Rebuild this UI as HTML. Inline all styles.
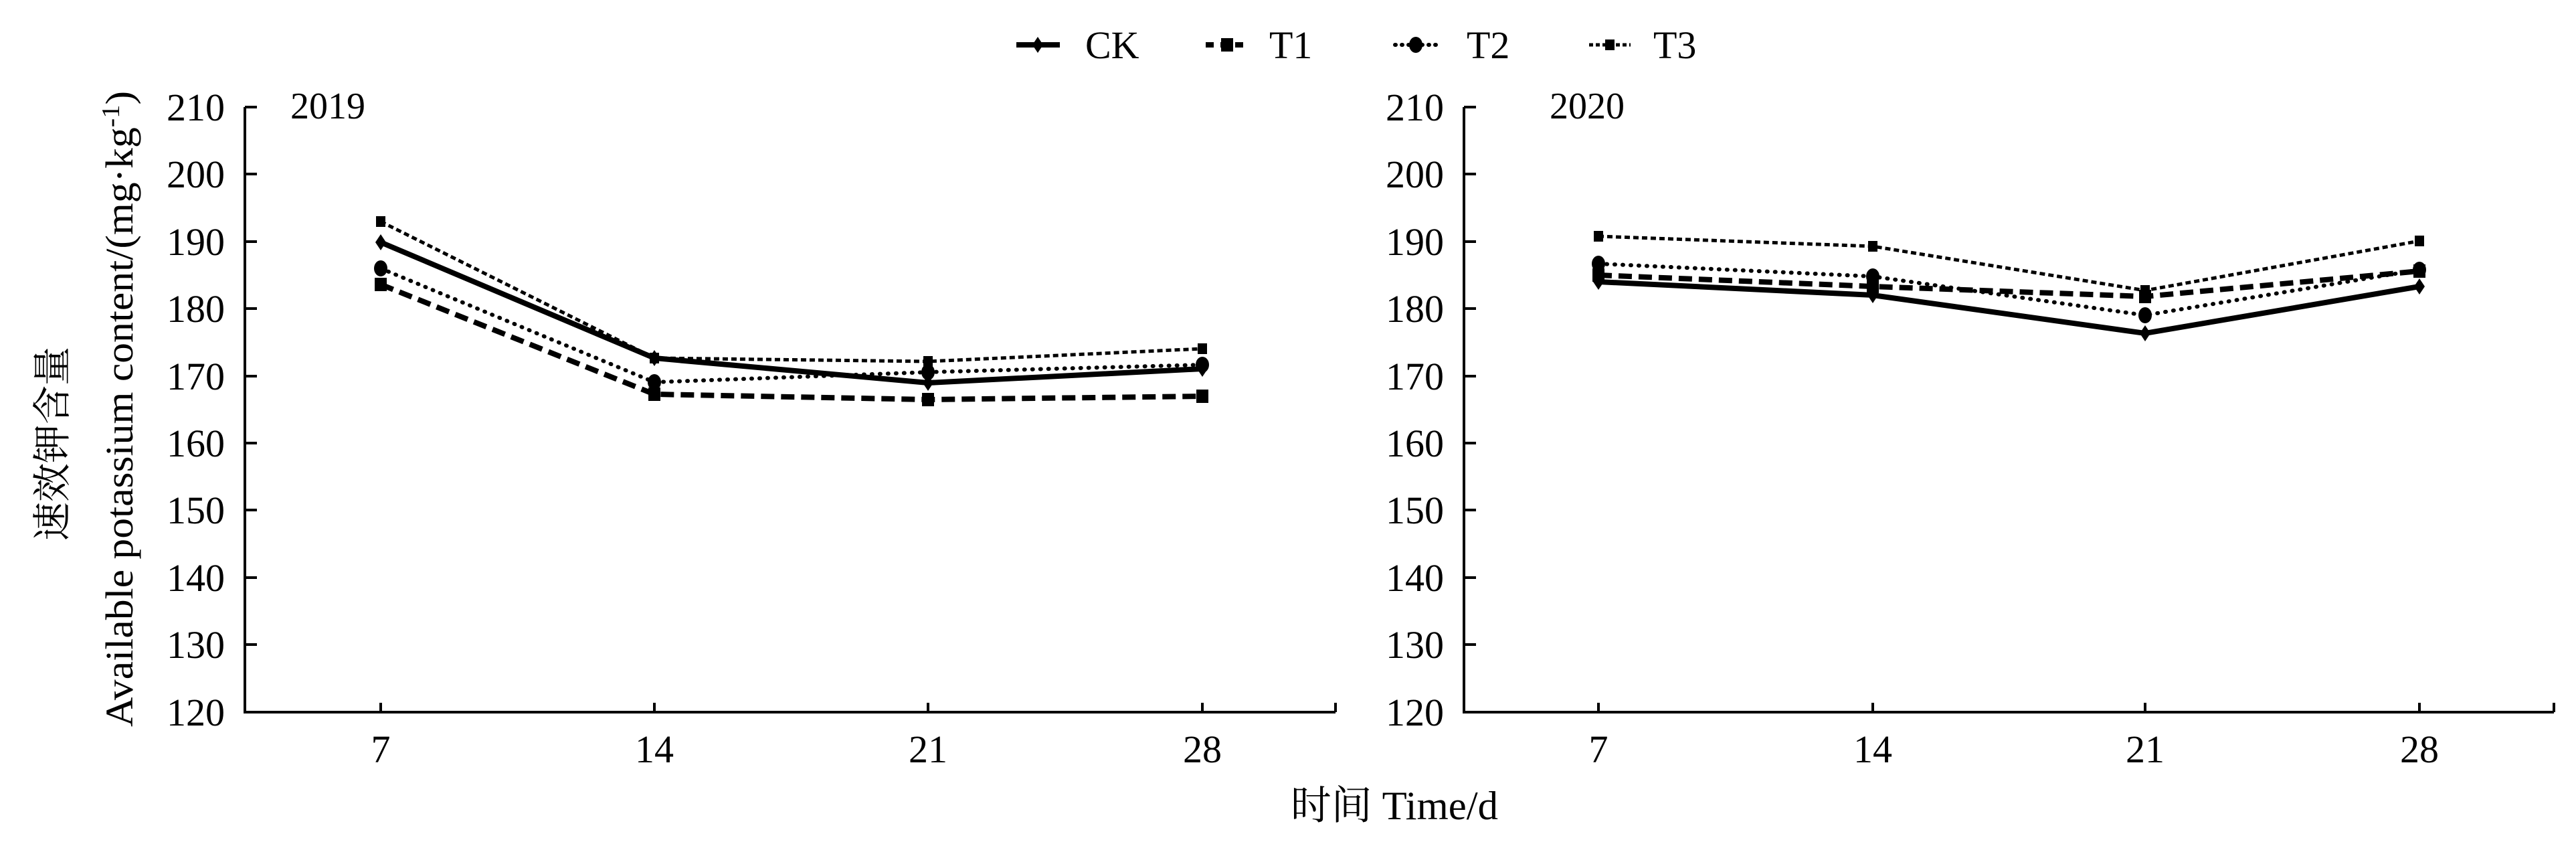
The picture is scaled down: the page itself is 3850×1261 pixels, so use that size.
<!DOCTYPE html>
<html><head><meta charset="utf-8"><style>
html,body{margin:0;padding:0;background:#fff;}
svg{display:block;}
text{font-family:"Liberation Serif","Noto Serif CJK SC",serif;fill:#000;}
</style></head><body>
<svg width="3850" height="1261" viewBox="0 0 3850 1261" xmlns="http://www.w3.org/2000/svg">
<defs>
<g id="mCK"><polygon points="0,-12 8,0 0,12 -8,0"/></g>
<g id="mT1"><rect x="-9" y="-10" width="18" height="20"/></g>
<g id="mT2"><ellipse cx="0" cy="0" rx="10" ry="12"/></g>
<g id="mT3"><rect x="-7" y="-8" width="14" height="16"/></g>
</defs>

<!-- Legend -->
<g stroke="#000" fill="#000">
<line x1="1519" y1="67" x2="1584" y2="67" stroke-width="8"/>
<use href="#mCK" x="1551" y="67" stroke="none"/>
<line x1="1802" y1="67" x2="1867" y2="67" stroke-width="8" stroke-dasharray="12,10"/>
<use href="#mT1" x="1834" y="67" stroke="none"/>
<line x1="2085" y1="67" x2="2146" y2="67" stroke-width="6" stroke-dasharray="1,9" stroke-linecap="round"/>
<use href="#mT2" x="2116" y="67" stroke="none"/>
<line x1="2375" y1="67" x2="2437" y2="67" stroke-width="5" stroke-dasharray="6,4"/>
<use href="#mT3" x="2406" y="67" stroke="none"/>
</g>
<g font-size="58">
<text x="1622" y="87">CK</text>
<text x="1897" y="87">T1</text>
<text x="2192" y="87">T2</text>
<text x="2471" y="87">T3</text>
</g>

<!-- Y axis titles -->
<text transform="translate(98,663) rotate(-90)" text-anchor="middle" font-size="58" font-family="Noto Serif CJK SC, serif">速效钾含量</text>
<text transform="translate(198,611) rotate(-90)" text-anchor="middle" font-size="58" textLength="950" lengthAdjust="spacingAndGlyphs">Available potassium content/(mg·kg<tspan dy="-20" font-size="38">-1</tspan><tspan dy="20">)</tspan></text>

<!-- X axis title -->
<text x="2084" y="1224" text-anchor="middle" font-size="60" textLength="310" lengthAdjust="spacingAndGlyphs">时间 Time/d</text>

<!-- Panel 1 axes -->
<g stroke="#000" stroke-width="4" fill="none">
<polyline points="366,160 366,1064 1996,1064"/>
<path d="M366,160h18M366,260h18M366,361h18M366,461h18M366,562h18M366,662h18M366,762h18M366,863h18M366,963h18"/>
<path d="M569,1064v-14M978,1064v-14M1387,1064v-14M1797,1064v-14M1996,1064v-14"/>
</g>
<g font-size="58" text-anchor="end">
<text x="336" y="180">210</text><text x="336" y="280">200</text><text x="336" y="381">190</text>
<text x="336" y="481">180</text><text x="336" y="582">170</text><text x="336" y="682">160</text>
<text x="336" y="782">150</text><text x="336" y="883">140</text><text x="336" y="983">130</text>
<text x="336" y="1084">120</text>
</g>
<g font-size="58" text-anchor="middle">
<text x="569" y="1139">7</text><text x="978" y="1139">14</text><text x="1387" y="1139">21</text><text x="1797" y="1139">28</text>
<text x="490" y="177" font-size="56">2019</text>
</g>

<!-- Panel 2 axes -->
<g stroke="#000" stroke-width="4" fill="none">
<polyline points="2188,160 2188,1064 3817,1064"/>
<path d="M2188,160h18M2188,260h18M2188,361h18M2188,461h18M2188,562h18M2188,662h18M2188,762h18M2188,863h18M2188,963h18"/>
<path d="M2389,1064v-14M2799,1064v-14M3206,1064v-14M3616,1064v-14M3817,1064v-14"/>
</g>
<g font-size="58" text-anchor="end">
<text x="2158" y="180">210</text><text x="2158" y="280">200</text><text x="2158" y="381">190</text>
<text x="2158" y="481">180</text><text x="2158" y="582">170</text><text x="2158" y="682">160</text>
<text x="2158" y="782">150</text><text x="2158" y="883">140</text><text x="2158" y="983">130</text>
<text x="2158" y="1084">120</text>
</g>
<g font-size="58" text-anchor="middle">
<text x="2389" y="1139">7</text><text x="2799" y="1139">14</text><text x="3206" y="1139">21</text><text x="3616" y="1139">28</text>
<text x="2372" y="177" font-size="56">2020</text>
</g>

<!-- Series 2019 -->
<g fill="none" stroke="#000">
<polyline points="569,331 978,535 1387,540 1797,521" stroke-width="5" stroke-dasharray="8,5"/>
<polyline points="569,362 978,535 1387,572 1797,551" stroke-width="8"/>
<polyline points="569,425 978,589 1387,597 1797,592" stroke-width="8" stroke-dasharray="20,10"/>
<polyline points="569,401 978,571 1387,556 1797,545" stroke-width="6" stroke-dasharray="1,11" stroke-linecap="round"/>
</g>
<g fill="#000">
<use href="#mT3" x="569" y="331"/><use href="#mT3" x="978" y="535"/><use href="#mT3" x="1387" y="540"/><use href="#mT3" x="1797" y="521"/>
<use href="#mCK" x="569" y="362"/><use href="#mCK" x="978" y="535"/><use href="#mCK" x="1387" y="572"/><use href="#mCK" x="1797" y="551"/>
<use href="#mT1" x="569" y="425"/><use href="#mT1" x="978" y="589"/><use href="#mT1" x="1387" y="597"/><use href="#mT1" x="1797" y="592"/>
<use href="#mT2" x="569" y="401"/><use href="#mT2" x="978" y="571"/><use href="#mT2" x="1387" y="556"/><use href="#mT2" x="1797" y="545"/>
</g>

<!-- Series 2020 -->
<g fill="none" stroke="#000">
<polyline points="2389,353 2799,368 3206,434 3616,360" stroke-width="5" stroke-dasharray="8,5"/>
<polyline points="2389,421 2799,441 3206,498 3616,428" stroke-width="8"/>
<polyline points="2389,411 2799,428 3206,443 3616,405" stroke-width="8" stroke-dasharray="20,10"/>
<polyline points="2389,394 2799,413 3206,471 3616,403" stroke-width="6" stroke-dasharray="1,11" stroke-linecap="round"/>
</g>
<g fill="#000">
<use href="#mT3" x="2389" y="353"/><use href="#mT3" x="2799" y="368"/><use href="#mT3" x="3206" y="434"/><use href="#mT3" x="3616" y="360"/>
<use href="#mCK" x="2389" y="421"/><use href="#mCK" x="2799" y="441"/><use href="#mCK" x="3206" y="498"/><use href="#mCK" x="3616" y="428"/>
<use href="#mT1" x="2389" y="411"/><use href="#mT1" x="2799" y="428"/><use href="#mT1" x="3206" y="443"/><use href="#mT1" x="3616" y="405"/>
<use href="#mT2" x="2389" y="394"/><use href="#mT2" x="2799" y="413"/><use href="#mT2" x="3206" y="471"/><use href="#mT2" x="3616" y="403"/>
</g>
</svg>
</body></html>
